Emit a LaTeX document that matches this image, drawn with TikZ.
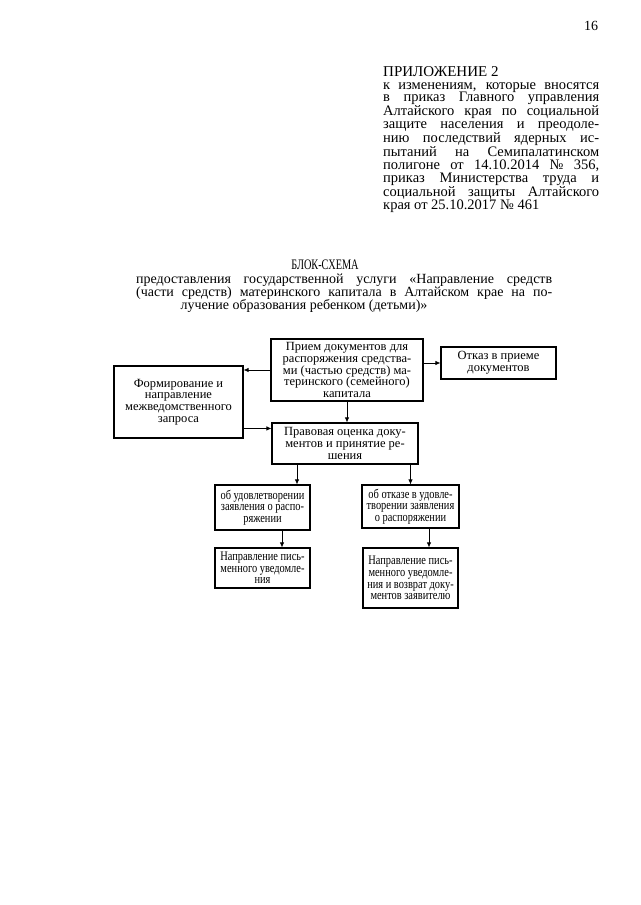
\documentclass[tikz,border=0pt]{standalone}
\usepackage{fontspec}
\setmainfont{Liberation Serif}
\newfontfamily\uzkij{Liberation Serif}[FakeStretch=0.8]
\newfontfamily\zaguzk{Liberation Serif}[FakeStretch=0.71]
\usetikzlibrary{arrows.meta,positioning,calc}
\newcommand{\fsbox}{\fontsize{12.5}{11.7}\selectfont}
\newcommand{\fsboxuz}{\fontsize{13}{11.6}\selectfont}
\newcommand{\fshead}{\fontsize{14.5}{12.9}\selectfont}
\newcommand{\fspod}{\fontsize{14}{13}\selectfont}
\newcommand{\strk}[1]{\makebox[216pt][s]{#1}}
\newcommand{\podstrk}[1]{\makebox[416pt][s]{#1}}
\tikzset{
  blok/.style={draw, line width=1.1pt, align=center, inner sep=1pt, font=\fsbox},
  blokuz/.style={blok, font=\uzkij\fsboxuz},
  strel/.style={-{Latex[length=5pt,width=4.5pt]}, line width=0.8pt},
  tekst/.style={inner sep=0pt, font=\fshead},
}

\begin{document}
\begin{tikzpicture}[x=1pt,y=-1pt]
  \useasboundingbox (0,0) rectangle (640,905);
  % --- page number and appendix header ---
  \node[tekst, font=\fspod] (nomer) at (591,26) {16};
  \node[tekst, font=\fontsize{15}{13}\selectfont, anchor=base west] (pril) at (383,76) {ПРИЛОЖЕНИЕ 2};
  \node[tekst, anchor=base west] (izm) at (383,89) {\vtop{\hsize=216pt\parindent=0pt
    \strk{к изменениям, которые вносятся}\par
    \strk{в приказ Главного управления}\par
    \strk{Алтайского края по социальной}\par
    \strk{защите населения и преодоле-}\par
    \strk{нию последствий ядерных ис-}\par
    \strk{пытаний на Семипалатинском}\par
    \strk{полигоне от 14.10.2014 №~356,}\par
    \strk{приказ Министерства труда и}\par
    \strk{социальной защиты Алтайского}\par
    края от 25.10.2017 №~461}};
  % --- title ---
  \node[tekst, font=\zaguzk\fshead] (zag) at (325,265) {БЛОК-СХЕМА};
  \node[tekst, font=\fspod, anchor=base west] (pod1) at (136,283)
    {\podstrk{предоставления государственной услуги «Направление средств}};
  \node[tekst, font=\fspod, anchor=base west] (pod2) at (136,296)
    {\podstrk{(части средств) материнского капитала в Алтайском крае на по-}};
  \node[tekst, font=\fspod, anchor=base] (pod3) at (304,309)
    {лучение образования ребенком (детьми)»};
  % --- boxes ---
  \node[blok, minimum width=152, minimum height=62] (priem) at (347,370)
    {Прием документов для\\распоряжения средства-\\ми (частью средств) ма-\\теринского (семейного)\\капитала};
  \node[blok, minimum width=115, minimum height=32] (otkaz) at (498.5,363)
    {Отказ в приеме\\документов};
  \node[blok, minimum width=129, minimum height=72] (form) at (178.5,402)
    {Формирование и\\направление\\межведомственного\\запроса};
  \node[blok, minimum width=146, minimum height=41] (prav) at (345,443.5)
    {Правовая оценка доку-\\ментов и принятие ре-\\шения};
  \node[blokuz, minimum width=95, minimum height=45] (udov) at (262.5,507.5)
    {об удовлетворении\\заявления о распо-\\ряжении};
  \node[blokuz, minimum width=97, minimum height=43] (otk2) at (410.5,506.5)
    {об отказе в удовле-\\творении заявления\\о распоряжении};
  \node[blokuz, minimum width=95, minimum height=40] (napr1) at (262.5,568)
    {Направление пись-\\менного уведомле-\\ния};
  \node[blokuz, minimum width=95, minimum height=60] (napr2) at (410.5,578)
    {Направление пись-\\менного уведомле-\\ния и возврат доку-\\ментов заявителю};
  % --- arrows ---
  \coordinate (pvx) at ([yshift=-6pt]prav.north west);
  \coordinate (uvx) at ([xshift=34.5pt]udov.north);
  \coordinate (usx) at ([xshift=19.5pt]udov.south);
  \coordinate (osx) at ([xshift=18.5pt]otk2.south);
  \draw[strel] (priem.west) -- (priem.west -| form.east);
  \draw[strel] (priem.east |- otkaz.west) -- (otkaz.west);
  \draw[strel] (priem.south) -- (priem.south |- prav.north);
  \draw[strel] (form.east |- pvx) -- (pvx);
  \draw[strel] (prav.south -| uvx) -- (uvx);
  \draw[strel] (prav.south -| otk2.north) -- (otk2.north);
  \draw[strel] (usx) -- (usx |- napr1.north);
  \draw[strel] (osx) -- (osx |- napr2.north);
\end{tikzpicture}
\end{document}
